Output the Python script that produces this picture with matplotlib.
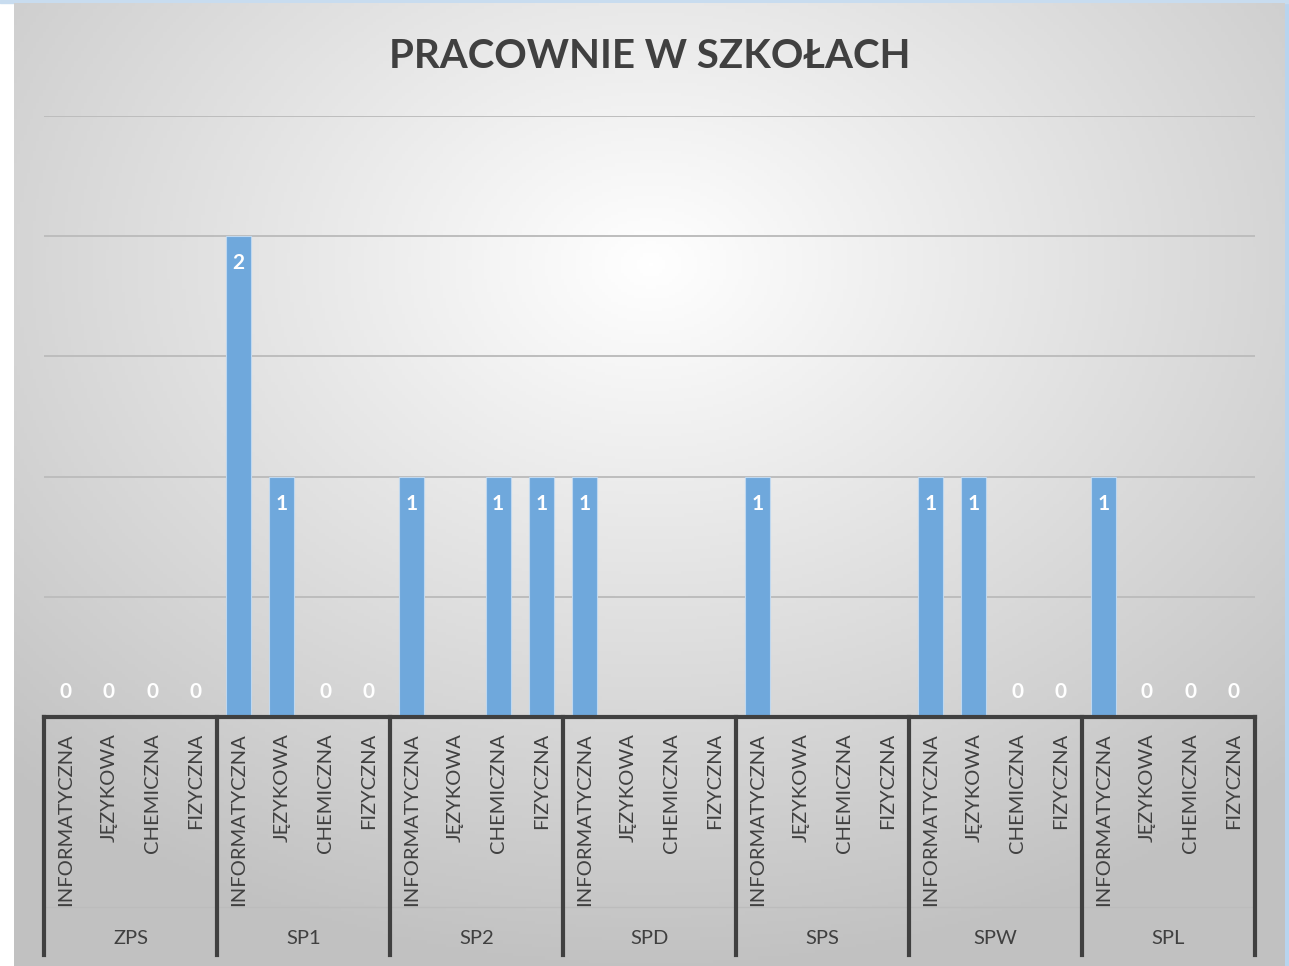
import numpy as np
import matplotlib
matplotlib.use("Agg")
from matplotlib import pyplot as plt
from matplotlib.lines import Line2D

plt.rcParams['font.family'] = ['Lato', 'DejaVu Sans']

szkoly = ['ZPS', 'SP1', 'SP2', 'SPD', 'SPS', 'SPW', 'SPL']
pracownie = ['INFORMATYCZNA', 'JĘZYKOWA', 'CHEMICZNA', 'FIZYCZNA']
# nan = brak wpisu (puste pole)
wartosci = [
    [0, 0, 0, 0],
    [2, 1, 0, 0],
    [1, np.nan, 1, 1],
    [1, np.nan, np.nan, np.nan],
    [1, np.nan, np.nan, np.nan],
    [1, 1, 0, 0],
    [1, 0, 0, 0],
]

W, H = 1289, 966
fig = plt.figure(figsize=(W / 100, H / 100), dpi=100)
fig.patch.set_facecolor('#ffffff')

# tlo z gradientem
bg = fig.add_axes([14 / W, 0, (1285 - 14) / W, (H - 3) / H])
yy, xx = np.mgrid[0:300, 0:400]
cx, cy = 0.50 * 400, 0.27 * 300
d = np.sqrt(((xx - cx) / 400) ** 2 + ((yy - cy) / 300) ** 2)
g = np.clip(1 - d * 0.33, 0.76, 1.0)
bg.imshow(np.dstack([g, g, g]), aspect='auto', extent=[0, 1, 0, 1], origin='upper')
bg.set_xlim(0, 1)
bg.set_ylim(0, 1)
bg.axis('off')
fig.patches.append(plt.Rectangle((1285 / W, 0), 4 / W, 1, transform=fig.transFigure,
                                 color='#b8d4ee', zorder=-5))
fig.patches.append(plt.Rectangle((0, 1 - 3 / H), 1, 3 / H, transform=fig.transFigure,
                                 color='#c8dcef', zorder=-5))

ax = fig.add_axes([44 / W, (H - 717) / H, (1255 - 44) / W, (717 - 116) / H])
ax.patch.set_alpha(0)

vals = np.array(wartosci, dtype=float).ravel()
n = len(vals)
x = np.arange(n)
ax.bar(x, np.nan_to_num(vals), width=0.58, color='#6fa8dc', edgecolor='#c0d8ef',
       linewidth=0.8, zorder=3)
ax.set_xlim(-0.5, n - 0.5)
ax.set_ylim(0, 2.5)
ax.set_yticks([0.5, 1, 1.5, 2, 2.5])
ax.yaxis.grid(True, color='#bdbdbd', linewidth=1.4, zorder=0)
ax.tick_params(left=False, labelleft=False, bottom=False, labelbottom=False)
for s in ['left', 'right', 'top']:
    ax.spines[s].set_visible(False)
ax.spines['bottom'].set_color('#404040')
ax.spines['bottom'].set_linewidth(3)
ax.spines['bottom'].set_zorder(4)

for xi, v in zip(x, vals):
    if np.isnan(v):
        continue
    if v > 0:
        ax.annotate(f'{int(v)}', (xi, v), xytext=(0, -27), textcoords='offset pixels',
                    ha='center', va='center', color='white', fontsize=15, fontweight='bold', zorder=5)
    else:
        ax.annotate('0', (xi, 0), xytext=(0, 25), textcoords='offset pixels',
                    ha='center', va='center', color='white', fontsize=15, fontweight='bold', zorder=5)

# etykiety kategorii
tr = ax.get_xaxis_transform()
def fy(py):
    # piksele obrazu -> wspolrzedne osi y
    return (H - py - (H - 717)) / (717 - 116)

for i, s in enumerate(szkoly):
    for j, p in enumerate(pracownie):
        ax.text(i * 4 + j, fy(733), p, transform=tr, rotation=90, ha='center', va='top',
                fontsize=14.5, color='#404040')
    ax.text(i * 4 + 1.5, fy(938), s, transform=tr, ha='center', va='center',
            fontsize=14.5, color='#404040')
    ax.add_line(Line2D([i * 4 - 0.5 + 0.03, i * 4 + 3.5 - 0.03], [fy(907), fy(907)], transform=tr,
                       color='#bcbcbc', linewidth=1, clip_on=False))

for k in range(len(szkoly) + 1):
    ax.add_line(Line2D([k * 4 - 0.5, k * 4 - 0.5], [0, fy(955)], transform=tr,
                       color='#404040', linewidth=3, clip_on=False, zorder=4))

fig.text(650 / W, 1 - 56 / H, 'PRACOWNIE W SZKOŁACH', ha='center', va='center',
         fontsize=29, fontweight='bold', color='#404040')

fig.savefig('out.png', dpi=100)
